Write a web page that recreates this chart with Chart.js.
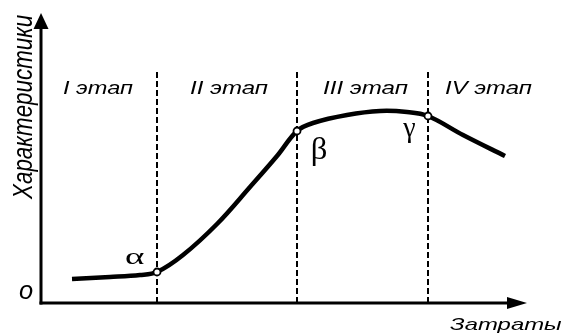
<!DOCTYPE html>
<html><head><meta charset="utf-8">
<script src="https://cdn.jsdelivr.net/npm/chart.js@4.4.0/dist/chart.umd.min.js"></script>
<style>html,body{margin:0;padding:0;background:#fff}#wrap{width:563px;height:334px}</style>
</head><body><div id="wrap"><canvas id="c" width="563" height="334"></canvas></div>
<script>
// ---- data ----
const curveX = [31, 69, 99, 116, 142, 176, 209, 236, 256, 272, 306, 339, 366, 387, 422, 464];
const curveY = [24, 26, 28, 31, 48, 79, 116, 147, 172, 180, 188, 192, 191, 187, 168, 147];
const keyPointNames = ['α', 'β', 'γ'];
const keyPointX = [116, 256, 387];
const keyPointY = [31, 172, 187];
const stageBoundaryX = [116, 256, 387];
const stageNames = ['I этап', 'II этап', 'III этап', 'IV этап'];
const stageLineTop = 233;
const axisMaxX = 486, axisMaxY = 290;
const xTitle = 'Затраты', yTitle = 'Характеристики', originLabel = 'o';

// ---- layout (pixel boxes for text) ----
const SANS = 'italic 20px "Liberation Sans", Arial, sans-serif';
const SERIF = '24px "Liberation Serif", "Times New Roman", serif';
const stageBoxes = [[63,133,81,94],[190,268,81,94],[323,408,81,94],[445,532,81,94]];
const greekBoxes = [[125,145,253,264],[312,327,138,165],[402,416,123,143]];

function fitText(ctx, text, font, l, r, t, b, mode) {
  ctx.font = font;
  ctx.textAlign = 'left';
  ctx.textBaseline = 'alphabetic';
  const m = ctx.measureText(text);
  const w = m.actualBoundingBoxLeft + m.actualBoundingBoxRight;
  const asc = m.actualBoundingBoxAscent, desc = m.actualBoundingBoxDescent;
  const sx = (r - l) / w;
  let sy, by;
  if (mode === 'asc') { sy = (b - t) / asc; by = b; }
  else { sy = (b - t) / (asc + desc); by = t + asc * sy; }
  ctx.save();
  ctx.translate(l, by);
  ctx.scale(sx, sy);
  ctx.fillStyle = '#000';
  ctx.fillText(text, m.actualBoundingBoxLeft, 0);
  ctx.restore();
}

const drawPlugin = {
  id: 'scheme',
  beforeDatasetsDraw(chart) {
    const ctx = chart.ctx, xs = chart.scales.x, ys = chart.scales.y;
    const x0 = xs.getPixelForValue(0), y0 = ys.getPixelForValue(0);
    const yTip = ys.getPixelForValue(axisMaxY), xTip = xs.getPixelForValue(axisMaxX);
    ctx.save();
    ctx.strokeStyle = '#000'; ctx.fillStyle = '#000'; ctx.lineWidth = 3; ctx.lineCap = 'butt';
    ctx.beginPath(); ctx.moveTo(x0, y0 + 1.5); ctx.lineTo(x0, yTip + 12); ctx.stroke();
    ctx.beginPath(); ctx.moveTo(x0 - 1.5, y0); ctx.lineTo(xTip - 16, y0); ctx.stroke();
    ctx.beginPath(); ctx.moveTo(x0, yTip); ctx.lineTo(x0 - 7.5, yTip + 16); ctx.lineTo(x0 + 7.5, yTip + 16); ctx.closePath(); ctx.fill();
    ctx.beginPath(); ctx.moveTo(xTip, y0); ctx.lineTo(xTip - 20, y0 - 6); ctx.lineTo(xTip - 20, y0 + 6); ctx.closePath(); ctx.fill();
    ctx.restore();
  },
  afterDraw(chart) {
    const ctx = chart.ctx;
    stageNames.forEach((s, i) => { const b = stageBoxes[i]; fitText(ctx, s, SANS, b[0], b[1], b[2], b[3], 'asc'); });
    keyPointNames.forEach((s, i) => { const b = greekBoxes[i]; fitText(ctx, s, SERIF, b[0], b[1], b[2], b[3], 'full'); });
    fitText(ctx, originLabel, SANS, 19, 33, 285, 299, 'full');
    fitText(ctx, xTitle, SANS, 450, 562, 318, 330, 'asc');
    // rotated y title
    ctx.save();
    ctx.font = SANS; ctx.textAlign = 'left'; ctx.textBaseline = 'alphabetic';
    const m = ctx.measureText(yTitle);
    const w = m.actualBoundingBoxLeft + m.actualBoundingBoxRight;
    const sx = (200 - 15) / w, sy = (32 - 13) / m.actualBoundingBoxAscent;
    ctx.translate(32, 200);
    ctx.rotate(-Math.PI / 2);
    ctx.scale(sx, sy);
    ctx.fillStyle = '#000';
    ctx.fillText(yTitle, m.actualBoundingBoxLeft, 0);
    ctx.restore();
  }
};

const datasets = [];
datasets.push({
  label: 'points', data: keyPointX.map((x, i) => ({x, y: keyPointY[i]})),
  showLine: false, pointRadius: 3.5, pointBackgroundColor: '#fff', pointBorderColor: '#000', pointBorderWidth: 1.8, clip: false
});
datasets.push({
  label: 'curve', data: curveX.map((x, i) => ({x, y: curveY[i]})),
  borderColor: '#000', borderWidth: 4.5, pointRadius: 0, tension: 0.35, borderJoinStyle: 'round', borderCapStyle: 'butt', fill: false, clip: false
});
stageBoundaryX.forEach(bx => datasets.push({
  label: 'boundary', data: [{x: bx, y: 0}, {x: bx, y: stageLineTop}],
  borderColor: '#000', borderWidth: 2, borderDash: [6, 3], pointRadius: 0, fill: false, clip: false
}));

new Chart(document.getElementById('c'), {
  type: 'line',
  data: { datasets },
  options: {
    responsive: false, animation: false, devicePixelRatio: 1,
    layout: { padding: { left: 41, right: 36, top: 13, bottom: 31 } },
    plugins: { legend: { display: false }, tooltip: { enabled: false } },
    scales: {
      x: { type: 'linear', min: 0, max: axisMaxX, display: false },
      y: { type: 'linear', min: 0, max: axisMaxY, display: false }
    }
  },
  plugins: [drawPlugin]
});
</script></body></html>
